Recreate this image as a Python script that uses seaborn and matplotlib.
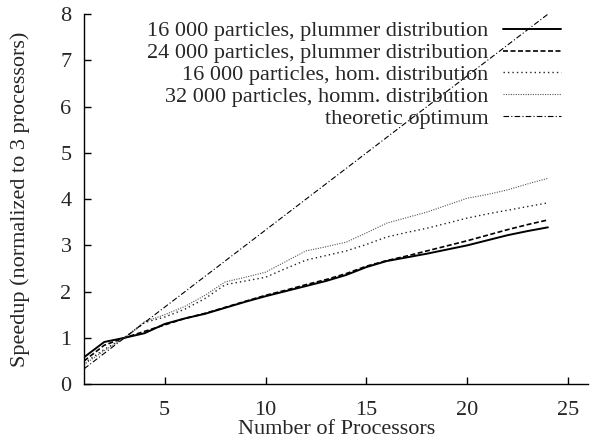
import matplotlib
matplotlib.use("Agg")
import matplotlib.pyplot as plt
import seaborn as sns

sns.set_style("ticks")
plt.rcParams['font.family'] = ['Liberation Serif', 'DejaVu Serif']
plt.rcParams['font.size'] = 16

processors = list(range(1, 25))

plummer_16k = [0.58, 0.91, 1.00, 1.10, 1.30, 1.42, 1.52, 1.65, 1.78, 1.90, 2.01, 2.12,
               2.23, 2.36, 2.53, 2.66, 2.74, 2.82, 2.91, 3.00, 3.11, 3.22, 3.31, 3.39]
plummer_24k = [0.50, 0.84, 1.00, 1.14, 1.28, 1.42, 1.53, 1.66, 1.79, 1.92, 2.03, 2.15,
               2.26, 2.39, 2.55, 2.67, 2.77, 2.88, 2.99, 3.10, 3.22, 3.34, 3.45, 3.55]
hom_16k = [0.45, 0.75, 1.00, 1.33, 1.45, 1.62, 1.85, 2.15, 2.23, 2.31, 2.50, 2.68,
           2.78, 2.88, 3.02, 3.18, 3.28, 3.37, 3.48, 3.59, 3.68, 3.76, 3.84, 3.92]
homm_32k = [0.42, 0.72, 1.00, 1.35, 1.50, 1.68, 1.92, 2.21, 2.31, 2.42, 2.65, 2.88,
            2.97, 3.07, 3.27, 3.48, 3.60, 3.72, 3.87, 4.02, 4.10, 4.20, 4.33, 4.45]
optimum_x = [1, 24]
optimum_y = [0.33, 8.0]

labels = ["16 000 particles, plummer distribution",
          "24 000 particles, plummer distribution",
          "16 000 particles, hom. distribution",
          "32 000 particles, homm. distribution",
          "theoretic optimum"]

fig = plt.figure(figsize=(5.96, 4.43), dpi=100)
ax = fig.add_axes([0.141, 0.133, 0.846, 0.835])

sns.lineplot(x=processors, y=plummer_16k, ax=ax, color="black", lw=1.4, label=labels[0])
sns.lineplot(x=processors, y=plummer_24k, ax=ax, color="black", lw=1.2, label=labels[1])
ax.lines[-1].set_dashes((3, 1.5))
sns.lineplot(x=processors, y=hom_16k, ax=ax, color="#222222", lw=1.0, label=labels[2])
ax.lines[-1].set_dashes((1, 2.2))
sns.lineplot(x=processors, y=homm_32k, ax=ax, color="#555555", lw=0.8, label=labels[3])
ax.lines[-1].set_dashes((1, 1.2))
sns.lineplot(x=optimum_x, y=optimum_y, ax=ax, color="black", lw=0.8, label=labels[4])
ax.lines[-1].set_dashes((5, 2, 1, 2))

ax.set_xlim(1, 26)
ax.set_ylim(0, 8)
ax.set_xticks([5, 10, 15, 20, 25])
ax.set_yticks(range(0, 9))
ax.tick_params(direction="in", length=5, width=1, labelsize=16, color="black")
ax.tick_params(axis="x", pad=12)
ax.tick_params(axis="y", pad=9)
sns.despine(ax=ax)
for s in ["left", "bottom"]:
    ax.spines[s].set_color("black")
    ax.spines[s].set_linewidth(1.0)

ax.set_xlabel("Number of Processors", fontsize=16, labelpad=0)
ax.set_ylabel("Speedup (normalized to 3 processors)", fontsize=16, labelpad=22)

leg = ax.legend(loc="upper right", bbox_to_anchor=(0.946, 0.982), frameon=False,
                markerfirst=False, handlelength=2.6, handletextpad=0.68,
                labelspacing=0.06, borderpad=0, borderaxespad=0, fontsize=16)

fig.savefig("out.png", dpi=100)
